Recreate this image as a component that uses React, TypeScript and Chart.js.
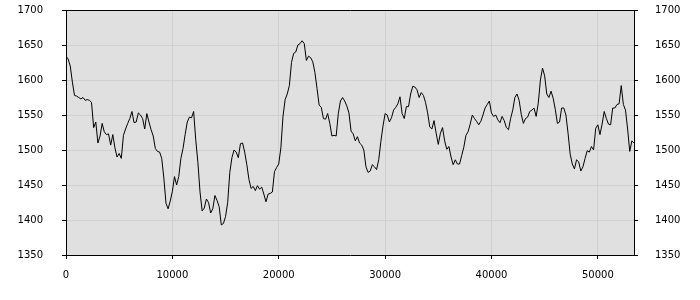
import React, { useEffect, useRef } from 'react';
import { Chart, registerables } from 'chart.js';

Chart.register(...registerables);

const X_STEP = 200;
const X_MIN = 0;
const X_MAX = 53400;
const X_TICKS = [0, 10000, 20000, 30000, 40000, 50000];
const Y_MIN = 1350;
const Y_MAX = 1700;
const Y_TICK_STEP = 50;

const VALUES: number[] = [
  1634, 1630, 1620, 1597, 1578, 1577, 1575, 1573, 1575, 1571,
  1572, 1571, 1568, 1532, 1540, 1510, 1520, 1538, 1526, 1522,
  1523, 1507, 1522, 1503, 1490, 1495, 1488, 1521, 1530, 1538,
  1545, 1555, 1539, 1540, 1553, 1550, 1545, 1530, 1552, 1540,
  1529, 1520, 1502, 1498, 1497,
  1488, 1460, 1424, 1416, 1427, 1441, 1462, 1450, 1462, 1488,
  1502, 1522, 1540, 1547, 1546, 1555, 1514, 1482, 1440, 1413,
  1417, 1430, 1425, 1410, 1416, 1435, 1428, 1419, 1393, 1395,
  1405, 1425, 1468, 1489, 1500, 1497, 1489, 1509, 1510, 1497,
  1479, 1458, 1445, 1448, 1442,
  1449, 1444, 1447, 1437, 1426, 1437, 1438, 1440, 1469, 1475,
  1480, 1503, 1548, 1572, 1580, 1592, 1625, 1638, 1640, 1650,
  1652, 1656, 1652, 1628, 1634, 1632, 1626, 1611, 1588, 1564,
  1561, 1545, 1544, 1552, 1538, 1520, 1521, 1520, 1552, 1570,
  1575, 1570, 1563, 1553, 1527,
  1523, 1513, 1519, 1510, 1507, 1500, 1476, 1468, 1470, 1479,
  1476, 1472, 1486, 1512, 1534, 1552, 1550, 1540, 1546, 1557,
  1561, 1566, 1576, 1552, 1545, 1562, 1562, 1580, 1591, 1590,
  1586, 1575, 1582, 1578, 1568, 1553, 1533, 1530, 1542, 1524,
  1508, 1524, 1532, 1513, 1501,
  1505, 1490, 1479, 1486, 1480, 1480, 1492, 1504, 1521, 1526,
  1537, 1550, 1545, 1541, 1536, 1541, 1550, 1560, 1565, 1570,
  1553, 1548, 1550, 1543, 1539, 1548, 1542, 1532, 1529, 1545,
  1557, 1575, 1580, 1571, 1551, 1538, 1545, 1547, 1555, 1557,
  1560, 1548, 1567, 1600, 1617,
  1606, 1580, 1575, 1584, 1574, 1558, 1538, 1540, 1560, 1560,
  1550, 1524, 1494, 1480, 1473, 1486, 1483, 1470, 1476, 1488,
  1499, 1497, 1505, 1500, 1531, 1536, 1522, 1537, 1555, 1545,
  1537, 1536, 1560, 1560, 1565, 1566, 1592, 1565, 1557, 1530,
  1498, 1513, 1510,
];

const FONT = { family: '"DejaVu Sans", sans-serif', size: 10 };
const TEXT_COLOR = '#000000';
const GRID_COLOR = '#d0d0d0';
const PLOT_BG = '#e0e0e0';

const bgPlugin = {
  id: 'plotBg',
  beforeDraw(chart: any) {
    const { ctx, chartArea } = chart;
    if (!chartArea) return;
    ctx.save();
    ctx.fillStyle = PLOT_BG;
    ctx.fillRect(chartArea.left, chartArea.top, chartArea.right - chartArea.left, chartArea.bottom - chartArea.top);
    ctx.restore();
  },
};

export default function App() {
  const ref = useRef<HTMLCanvasElement | null>(null);

  useEffect(() => {
    if (!ref.current) return;
    const points = VALUES.map((v, i) => ({ x: i * X_STEP, y: v }));
    const chart = new Chart(ref.current, {
      type: 'scatter',
      data: {
        datasets: [
          {
            data: points,
            showLine: true,
            borderColor: '#000000',
            borderWidth: 1,
            pointRadius: 0,
            tension: 0,
            fill: false,
            yAxisID: 'y',
          },
        ],
      },
      plugins: [bgPlugin],
      options: {
        animation: false,
        responsive: false,
        events: [],
        layout: { padding: { top: 10, left: 0, right: 0, bottom: 0 } },
        plugins: { legend: { display: false }, tooltip: { enabled: false } },
        scales: {
          x: {
            type: 'linear',
            position: 'bottom',
            min: X_MIN,
            max: X_MAX,
            bounds: 'data',
            afterBuildTicks: (scale: any) => {
              scale.ticks = X_TICKS.map((value) => ({ value }));
            },
            afterFit: (scale: any) => {
              scale.height = 45;
              scale.paddingLeft = 0;
              scale.paddingRight = 0;
            },
            ticks: {
              autoSkip: false,
              color: TEXT_COLOR,
              font: FONT,
              padding: 10,
              maxRotation: 0,
              callback: (v: any) => String(v),
            },
            grid: { color: GRID_COLOR, tickColor: '#000000', tickLength: 4, lineWidth: 1 },
            border: { display: true, color: '#000000', width: 1 },
          },
          y: {
            type: 'linear',
            position: 'left',
            min: Y_MIN,
            max: Y_MAX,
            afterFit: (scale: any) => {
              scale.width = 66;
              scale.paddingTop = 0;
              scale.paddingBottom = 0;
            },
            ticks: {
              stepSize: Y_TICK_STEP,
              color: TEXT_COLOR,
              font: FONT,
              padding: 19,
              callback: (v: any) => String(v),
            },
            grid: {
              color: (c: any) => (c.tick && c.tick.value === Y_MAX ? '#000000' : GRID_COLOR),
              tickColor: '#000000',
              tickLength: 4,
              lineWidth: 1,
            },
            border: { display: true, color: '#000000', width: 1 },
          },
          y2: {
            type: 'linear',
            position: 'right',
            display: true,
            min: Y_MIN,
            max: Y_MAX,
            afterFit: (scale: any) => {
              scale.width = 66;
              scale.paddingTop = 0;
              scale.paddingBottom = 0;
            },
            ticks: {
              stepSize: Y_TICK_STEP,
              color: TEXT_COLOR,
              font: FONT,
              padding: 17,
              callback: (v: any) => String(v),
            },
            grid: { drawOnChartArea: false, tickColor: '#000000', tickLength: 4, lineWidth: 1 },
            border: { display: true, color: '#000000', width: 1 },
          },
        },
      },
    } as any);
    return () => chart.destroy();
  }, []);

  return (
    <div style={{ position: 'absolute', left: 0, top: 0, width: 700, height: 300 }}>
      <canvas ref={ref} width={700} height={300} style={{ display: 'block' }} />
    </div>
  );
}
